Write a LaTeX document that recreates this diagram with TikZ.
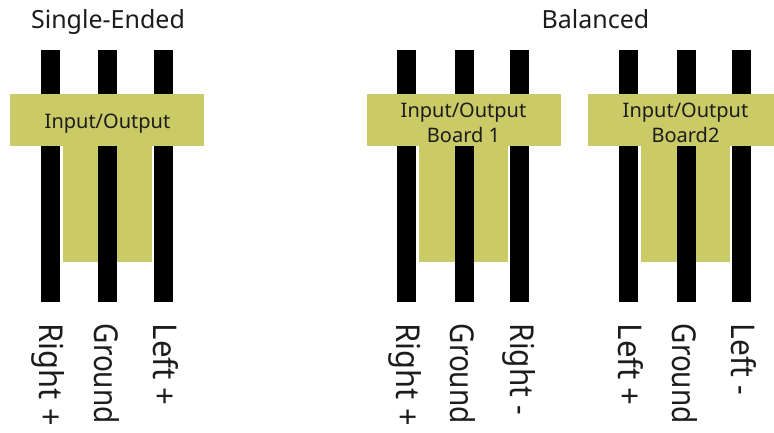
\documentclass[tikz,border=0pt]{standalone}
\usepackage{fontspec}
\setmainfont{Noto Sans}
\definecolor{board}{HTML}{CACA66}
\definecolor{ink}{HTML}{1C1C1C}
\tikzset{
  x=1pt,y=-1pt,
  box/.style={anchor=north west,inner sep=0pt,outer sep=0pt,minimum width=#1,draw=none},
  wire/.style={box=19pt,minimum height=252pt,fill=black},
  boardbox/.style={box=#1,minimum height=52pt,fill=board},
  boardtext/.style={anchor=base,inner sep=0pt,text=ink,font=\fontsize{20}{26}\selectfont},
  backing/.style={box=89pt,minimum height=116pt,fill=board},
  heading/.style={anchor=base,text=ink,inner sep=0pt,font=\fontsize{25}{28}\selectfont},
  pinlabel/.style={rotate=-90,anchor=base west,inner sep=0pt,text=ink,font=\fontsize{27}{30}\selectfont}
}
\newcommand{\pintext}[2]{\resizebox{#1}{25pt}{#2}}
\begin{document}
\begin{tikzpicture}
\useasboundingbox (0,0) rectangle (774,432);
\fill[white] (0,0) rectangle (774,432);
\node[heading] (t1) at (108,28) {Single-Ended};
\node[heading] (t2) at (595.5,28) {Balanced};
% backings
\node[backing] (b1) at (62.5,146) {};
\node[backing] (b2) at (419,146) {};
\node[backing] (b3) at (641,146) {};
% wires
\node[wire] (w1) at (41,50) {};
\node[wire] (w2) at (98,50) {};
\node[wire] (w3) at (154,50) {};
\node[wire] (w4) at (397,50) {};
\node[wire] (w5) at (455,50) {};
\node[wire] (w6) at (510,50) {};
\node[wire] (w7) at (619,50) {};
\node[wire] (w8) at (677,50) {};
\node[wire] (w9) at (732,50) {};
% boards
\node[boardbox=194pt] (p1) at (10,94) {};
\node[boardbox=194pt] (p2) at (367,94) {};
\node[boardbox=186pt] (p3) at (588,94) {};
\node[boardtext] (x1) at (107.5,128.5) {Input/Output};
\node[boardtext] (x2) at (463.5,117) {Input/Output};
\node[boardtext] (x3) at (463.5,142) {Board 1};
\node[boardtext] (x4) at (685.5,117) {Input/Output};
\node[boardtext] (x5) at (685.5,142) {Board2};
% labels
\node[pinlabel] (l1) at (39,323.5) {\pintext{102pt}{Right +}};
\node[pinlabel] (l2) at (94.5,323.5) {\pintext{100pt}{Ground}};
\node[pinlabel] (l3) at (153,323.5) {\pintext{82pt}{Left +}};
\node[pinlabel] (l4) at (396,323.5) {\pintext{102pt}{Right +}};
\node[pinlabel] (l5) at (450.5,323.5) {\pintext{100pt}{Ground}};
\node[pinlabel] (l6) at (510,323.5) {\pintext{91pt}{Right -}};
\node[pinlabel] (l7) at (618,323.5) {\pintext{82pt}{Left +}};
\node[pinlabel] (l8) at (672.5,323.5) {\pintext{100pt}{Ground}};
\node[pinlabel] (l9) at (731,323.5) {\pintext{71pt}{Left -}};
\end{tikzpicture}
\end{document}
